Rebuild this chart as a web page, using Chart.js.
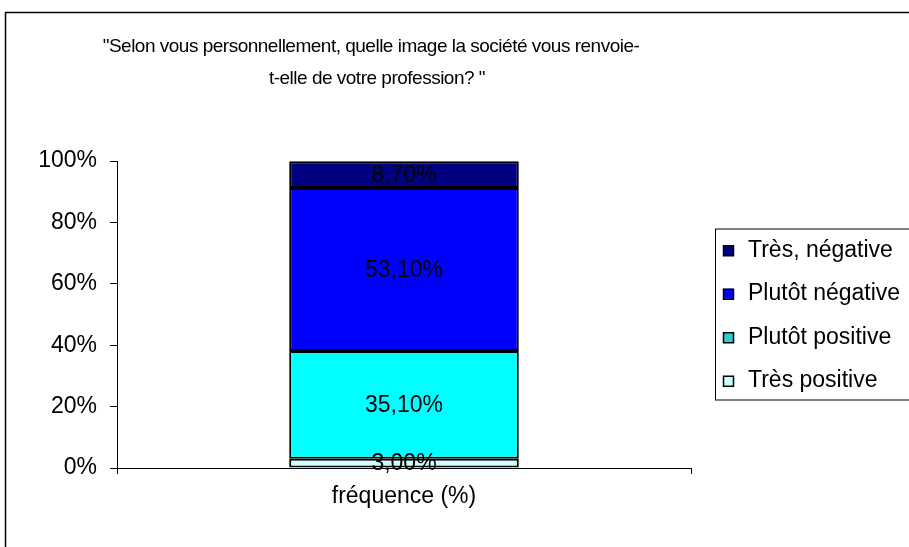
<!DOCTYPE html>
<html>
<head>
<meta charset="utf-8">
<script src="https://cdn.jsdelivr.net/npm/chart.js@4"></script>
<style>
  html, body { margin: 0; padding: 0; background: #fff; }
  canvas { display: block; }
</style>
</head>
<body>
<canvas id="chart" width="909" height="547"></canvas>
<script>
const titleLines = ['"Selon vous personnellement, quelle image la société vous renvoie-', 't-elle de votre profession? "'];
const categories = ['fréquence (%)'];
const seriesNames = ['Très positive', 'Plutôt positive', 'Plutôt négative', 'Très, négative'];
const seriesValues = [3.0, 35.1, 53.1, 8.7];
const valueLabels = ['3,00%', '35,10%', '53,10%', '8,70%'];
const yTicks = [0, 20, 40, 60, 80, 100];

const barColors = ['#CCFFFF', '#00FFFF', '#0000FF', '#000080'];
const swatchColors = ['#CCFFFF', '#33CCCC', '#0000FF', '#000080'];
const FONT = '"Liberation Sans", Arial, sans-serif';
const FONT_SIZE = 23;
const TITLE_SIZE = 19;

// title, outer frame, legend box, value labels
const decorations = {
    id: 'decorations',
    afterDatasetsDraw(chart) {
        const ctx = chart.ctx;
        ctx.save();
        ctx.font = `${FONT_SIZE}px ${FONT}`;
        ctx.fillStyle = '#000';
        ctx.textAlign = 'center';
        ctx.textBaseline = 'middle';
        chart.data.datasets.forEach((ds, i) => {
            const bar = chart.getDatasetMeta(i).data[0];
            const p = bar.getCenterPoint();
            ctx.fillText(valueLabels[i], p.x, p.y + 1);
        });
        ctx.restore();
    },
    afterDraw(chart) {
        const ctx = chart.ctx;
        ctx.save();
        // outer frame (runs off the right and bottom edges)
        ctx.strokeStyle = '#000';
        ctx.lineWidth = 1.5;
        ctx.strokeRect(5.5, 12.5, 1000, 1000);

        // title, slightly tightened
        ctx.font = `${TITLE_SIZE}px ${FONT}`;
        if ('letterSpacing' in ctx) ctx.letterSpacing = '-0.5px';
        ctx.fillStyle = '#000';
        ctx.textAlign = 'center';
        ctx.textBaseline = 'middle';
        ctx.fillText(titleLines[0], 371, 47);
        ctx.fillText(titleLines[1], 377, 79);
        if ('letterSpacing' in ctx) ctx.letterSpacing = '0px';

        // legend
        const area = chart.chartArea;
        const rowGap = 43.5;
        const n = seriesNames.length;
        const midY = (area.top + area.bottom) / 2;
        const boxTop = midY - 86;
        ctx.font = `${FONT_SIZE}px ${FONT}`;
        ctx.lineWidth = 1;
        ctx.strokeStyle = '#000';
        ctx.strokeRect(715.5, boxTop + 0.5, 300, 171);
        ctx.textAlign = 'left';
        for (let k = 0; k < n; k++) {
            const i = n - 1 - k;
            const y = midY + (k - (n - 1) / 2) * rowGap + 1;
            ctx.fillStyle = swatchColors[i];
            ctx.fillRect(723, y - 5, 10, 10);
            ctx.lineWidth = 1.5;
            ctx.strokeRect(723.5, y - 4.5, 10, 10);
            ctx.fillStyle = '#000';
            ctx.fillText(seriesNames[i], 748, y);
        }
        ctx.restore();
    }
};

const datasets = seriesNames.map((name, i) => ({
    label: name,
    data: [seriesValues[i]],
    backgroundColor: barColors[i],
    borderColor: '#000',
    borderWidth: 2,
    borderSkipped: false,
    barPercentage: 0.4,
    categoryPercentage: 1
}));

new Chart(document.getElementById('chart'), {
    type: 'bar',
    data: { labels: categories, datasets: datasets },
    options: {
        responsive: false,
        animation: false,
        devicePixelRatio: 1,
        layout: { padding: { top: 161, right: 218, bottom: 0, left: 0 } },
        plugins: {
            legend: { display: false },
            title: { display: false },
            tooltip: { enabled: false }
        },
        scales: {
            x: {
                stacked: true,
                offset: true,
                afterFit(scale) { scale.height = 79; },
                grid: { offset: true, drawOnChartArea: false, tickLength: 6, color: '#000', lineWidth: 1 },
                border: { color: '#000', width: 1 },
                ticks: { color: '#000', padding: 9, font: { family: FONT, size: FONT_SIZE } }
            },
            y: {
                stacked: true,
                min: 0,
                max: 100,
                afterFit(scale) { scale.width = 117; },
                afterBuildTicks(scale) { scale.ticks = yTicks.map(v => ({ value: v })); },
                grid: { drawOnChartArea: false, tickLength: 7, color: '#000', lineWidth: 1 },
                border: { color: '#000', width: 1 },
                ticks: {
                    color: '#000',
                    padding: 13,
                    font: { family: FONT, size: FONT_SIZE },
                    callback: v => v + '%'
                }
            }
        }
    },
    plugins: [decorations]
});
</script>
</body>
</html>
